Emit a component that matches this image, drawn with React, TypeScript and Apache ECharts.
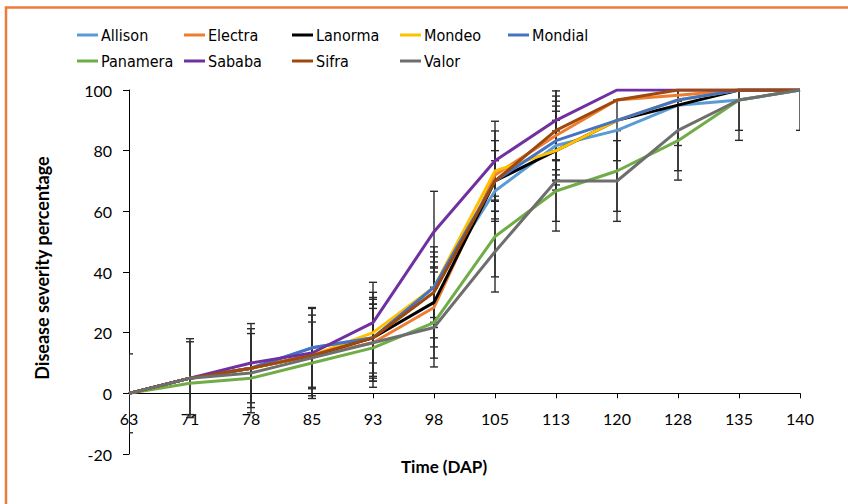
import React, { useEffect, useRef } from "react";
import * as echarts from "echarts";

const days = ["63", "71", "78", "85", "93", "98", "105", "113", "120", "128", "135", "140"];
const seriesNames = ["Allison", "Electra", "Lanorma", "Mondeo", "Mondial", "Panamera", "Sababa", "Sifra", "Valor"];
const seriesColors = ["#5B9BD5", "#ED7D31", "#000000", "#FFC000", "#4472C4", "#70AD47", "#7030A0", "#9E480E", "#6E6E6E"];

const allison = [0, 5, 8.3, 15, 18.3, 35, 66.7, 81.7, 86.7, 95, 96.7, 100];
const electra = [0, 5, 8.3, 12.5, 16.7, 28.3, 72, 85, 96.7, 98.3, 100, 100];
const lanorma = [0, 5, 8.3, 12.5, 18.3, 30, 70, 80, 90, 95, 100, 100];
const mondeo = [0, 5, 8.3, 12.5, 20, 35, 73.3, 80, 90, 96.7, 100, 100];
const mondial = [0, 5, 8.3, 15, 18.3, 35, 70, 83.3, 90, 96.7, 100, 100];
const panamera = [0, 3.3, 5, 10, 15, 23.3, 51.7, 66.7, 73.3, 83.3, 96.7, 100];
const sababa = [0, 5, 10, 13.3, 23.3, 53.3, 76.7, 90, 100, 100, 100, 100];
const sifra = [0, 5, 8.3, 12.5, 18.3, 33.3, 70, 86.7, 96.7, 100, 100, 100];
const valor = [0, 5, 6.7, 11.7, 16.7, 21.7, 46.7, 70, 70, 86.7, 96.7, 100];

const allisonErr = [0, 13, 0, 0, 13.3, 11.6, 10, 13, 10, 0, 10, 0];
const electraErr = [0, 0, 14.7, 13.3, 12.7, 13, 14.5, 13, 0, 0, 0, 0];
const lanormaErr = [0, 0, 13, 0, 12.7, 11.7, 0, 10, 0, 13.3, 0, 0];
const mondeoErr = [0, 12, 0, 11, 13.3, 13.3, 10, 13, 0, 0, 0, 0];
const mondialErr = [0, 0, 11.4, 13, 0, 10, 0, 13, 0, 0, 0, 0];
const panameraErr = [0, 0, 0, 0, 13, 11.7, 13.3, 10, 13.3, 13, 13.3, 0];
const sababaErr = [0, 0, 0, 15, 13.3, 13.3, 13, 13, 0, 0, 0, 0];
const sifraErr = [0, 0, 0, 0, 0, 10, 10, 13, 0, 0, 0, 0];
const valorErr = [13, 0, 0, 0, 12.7, 13, 13.3, 16.5, 13.3, 13.3, 0, 13.3];

const yTicks = { min: -20, max: 100, interval: 20 };
const xTitle = "Time (DAP)";
const yTitle = "Disease severity percentage";

const legendColumns = [
  ["Allison", "Panamera"],
  ["Electra", "Sababa"],
  ["Lanorma", "Sifra"],
  ["Mondeo", "Valor"],
  ["Mondial"],
];
const legendLefts = [72, 179, 287, 395, 503];

const FONT = "Lato, 'Noto Sans', sans-serif";
const LEGEND_FONT = "'Liberation Sans Narrow', 'DejaVu Sans Condensed', Lato, sans-serif";

const GRID_TOP = 90;
const GRID_BOTTOM = 50;
const CHART_H = 504;

export default function App() {
  const ref = useRef<HTMLDivElement>(null);

  useEffect(() => {
    const chart = echarts.init(ref.current!, null, { renderer: "svg" });
    const values = [allison, electra, lanorma, mondeo, mondial, panamera, sababa, sifra, valor];
    const errs = [allisonErr, electraErr, lanormaErr, mondeoErr, mondialErr, panameraErr, sababaErr, sifraErr, valorErr];

    const errData: number[][] = [];
    values.forEach((vals, s) => {
      vals.forEach((v, i) => {
        const e = errs[s][i];
        if (e > 0) errData.push([i, v - e, v + e]);
      });
    });

    // distance from the bottom of the grid up to the y = 0 line
    const gridH = CHART_H - GRID_TOP - GRID_BOTTOM;
    const zeroOffset = (gridH * (0 - yTicks.min)) / (yTicks.max - yTicks.min);

    const lineSeries = seriesNames.map((name, s) => ({
      name,
      type: "line",
      data: values[s],
      showSymbol: false,
      symbol: "none",
      color: seriesColors[s],
      lineStyle: { width: 3, color: seriesColors[s] },
      z: 3,
    }));

    const errSeries = {
      name: "errors",
      type: "custom",
      data: errData,
      encode: { x: 0, y: [1, 2] },
      clip: true,
      z: 2,
      renderItem: (params: any, api: any) => {
        const x = api.value(0);
        const lo = api.coord([x, api.value(1)]);
        const hi = api.coord([x, api.value(2)]);
        const w = 4;
        const style = { stroke: "#2b2b2b", lineWidth: 1.4 };
        return {
          type: "group",
          children: [
            { type: "line", shape: { x1: lo[0], y1: lo[1], x2: hi[0], y2: hi[1] }, style },
            { type: "line", shape: { x1: lo[0] - w, y1: lo[1], x2: lo[0] + w, y2: lo[1] }, style },
            { type: "line", shape: { x1: hi[0] - w, y1: hi[1], x2: hi[0] + w, y2: hi[1] }, style },
          ],
        };
      },
    };

    chart.setOption({
      animation: false,
      backgroundColor: "#ffffff",
      grid: { left: 129, right: 48, top: GRID_TOP, bottom: GRID_BOTTOM },
      legend: legendColumns.map((col, k) => ({
        orient: "vertical",
        left: legendLefts[k],
        top: 21,
        itemWidth: 21,
        itemHeight: 3,
        itemGap: 8,
        icon: "rect",
        selectedMode: false,
        data: col,
        textStyle: { fontFamily: LEGEND_FONT, fontSize: 16, color: "#000", lineHeight: 18, padding: [0, 0, 0, -2] },
      })),
      xAxis: {
        type: "category",
        data: days,
        boundaryGap: false,
        position: "bottom",
        offset: -zeroOffset,
        axisLine: { onZero: false, lineStyle: { color: "#000", width: 1 } },
        axisTick: { show: true, length: 5, lineStyle: { color: "#000" } },
        axisLabel: { fontFamily: FONT, fontSize: 16, color: "#000", margin: 17 },
        splitLine: { show: false },
      },
      yAxis: {
        type: "value",
        min: yTicks.min,
        max: yTicks.max,
        interval: yTicks.interval,
        axisLine: { show: true, lineStyle: { color: "#000", width: 1 } },
        axisTick: { show: true, length: 6, lineStyle: { color: "#000" } },
        axisLabel: { fontFamily: FONT, fontSize: 16, color: "#000", margin: 17 },
        splitLine: { show: false },
      },
      graphic: [
        {
          type: "rect",
          shape: { x: 6, y: 7.5, width: 900, height: 600 },
          style: { fill: "none", stroke: "#EF7A3A", lineWidth: 2.5 },
          silent: true,
        },
        {
          type: "text",
          x: 42,
          y: 268,
          rotation: Math.PI / 2,
          style: {
            text: yTitle,
            font: `bold 18px ${FONT}`,
            fill: "#000",
            align: "center",
            verticalAlign: "middle",
          },
        },
        {
          type: "text",
          x: 444,
          y: 466,
          style: {
            text: xTitle,
            font: `bold 17px ${FONT}`,
            fill: "#000",
            align: "center",
            verticalAlign: "middle",
          },
        },
      ],
      series: [errSeries, ...lineSeries],
    });

    return () => chart.dispose();
  }, []);

  return (
    <div
      ref={ref}
      style={{ position: "fixed", left: 0, top: 0, width: 848, height: 504, background: "#fff" }}
    />
  );
}
